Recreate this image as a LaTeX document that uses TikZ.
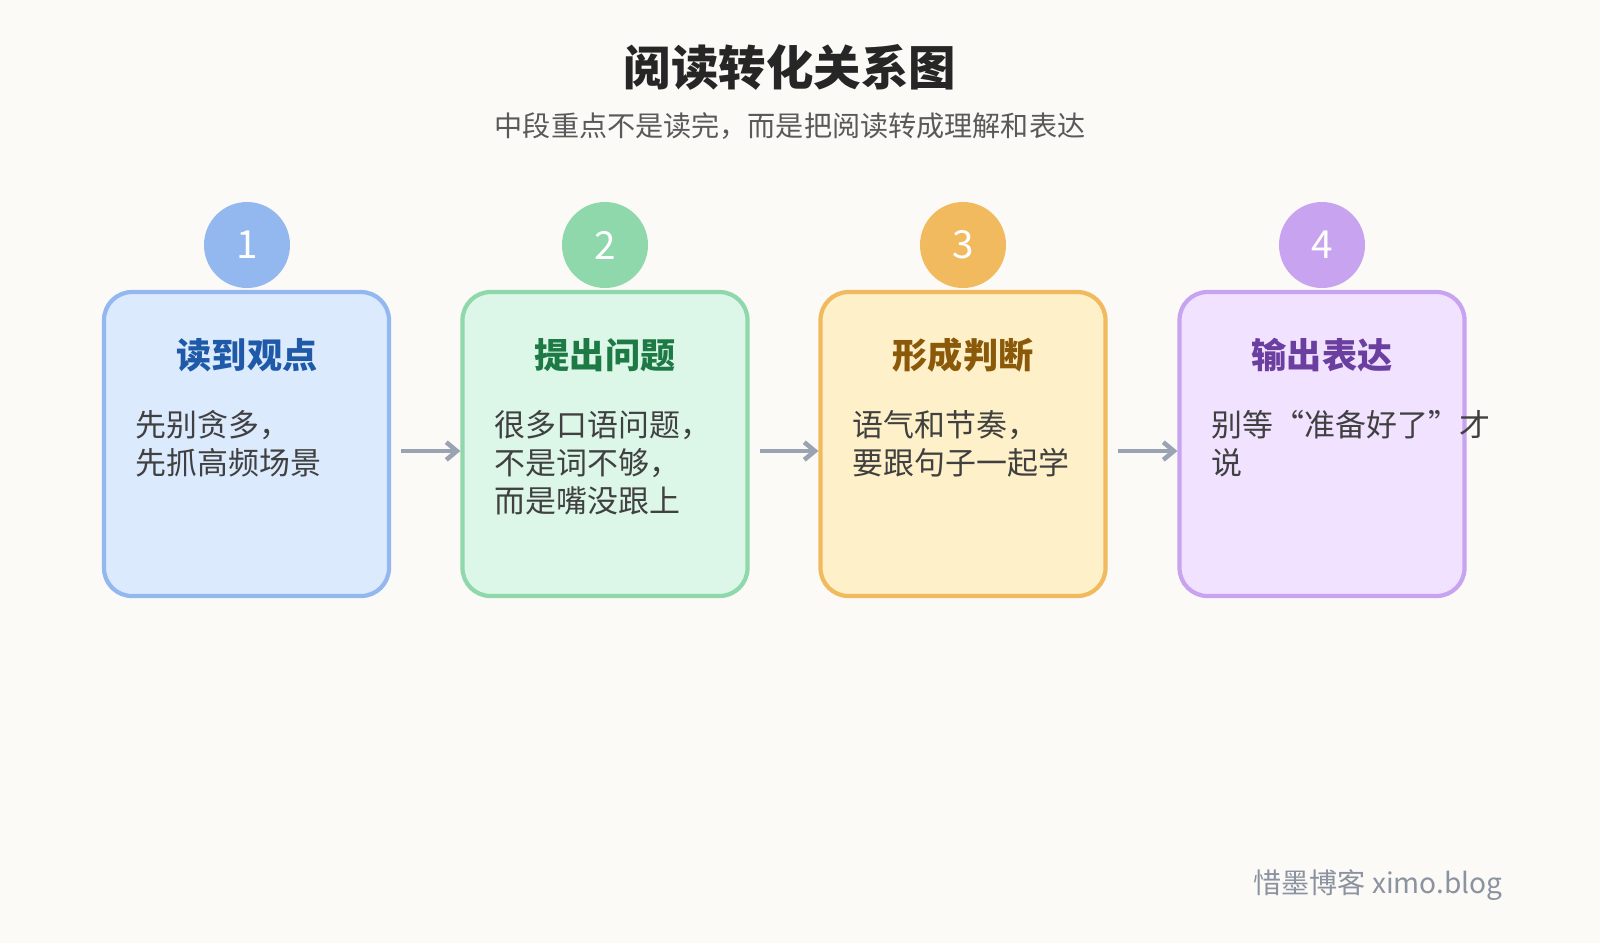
\documentclass[tikz,border=0pt]{standalone}
\usepackage{fontspec}
\setmainfont{Noto Sans CJK SC}
\usetikzlibrary{positioning,arrows.meta}
\definecolor{bgpaper}{HTML}{FBFAF7}
\definecolor{flowgray}{HTML}{9AA3B2}
\definecolor{fillA}{HTML}{DCEAFE}\definecolor{edgeA}{HTML}{93B8F0}\definecolor{headA}{HTML}{1E5AA8}
\definecolor{fillB}{HTML}{DCF7E8}\definecolor{edgeB}{HTML}{8ED8AC}\definecolor{headB}{HTML}{1E7A45}
\definecolor{fillC}{HTML}{FEF0C8}\definecolor{edgeC}{HTML}{F2BA5E}\definecolor{headC}{HTML}{8A5A0A}
\definecolor{fillD}{HTML}{F1E2FF}\definecolor{edgeD}{HTML}{C8A4F0}\definecolor{headD}{HTML}{6B3FA0}
\tikzset{
  stagebox/.style={draw=#1, line width=1.2pt, rounded corners=0.28cm,
    minimum width=2.85cm, minimum height=3.04cm},
  stagenum/.style={circle, fill=#1, minimum size=0.86cm, inner sep=0pt,
    text=white, font=\fontsize{11}{12}\selectfont},
  stagehead/.style={font=\fontsize{10}{12}\selectfont\bfseries, text=#1},
  stagetext/.style={font=\fontsize{8.8}{10.8}\selectfont, text=black!75,
    align=left, anchor=north west, inner sep=0pt},
  flow/.style={draw=flowgray, line width=1.3pt, -{Straight Barb[length=3pt,width=5pt]}}
}
\begin{document}
\begin{tikzpicture}
  \fill[bgpaper] (0,0) rectangle (16,-9.43);
  \useasboundingbox (0,0) rectangle (16,-9.43);

  \node[font=\fontsize{13.5}{16}\selectfont\bfseries, text=black!85] (title) at (7.9,-0.67) {阅读转化关系图};
  \node[font=\fontsize{8}{9}\selectfont, text=black!65] (subtitle) at (7.9,-1.26) {中段重点不是读完，而是把阅读转成理解和表达};

  % stages
  \node[stagebox=edgeA, fill=fillA] (boxA) at (2.465,-4.44) {};
  \node[stagebox=edgeB, fill=fillB] (boxB) at (6.05,-4.44) {};
  \node[stagebox=edgeC, fill=fillC] (boxC) at (9.63,-4.44) {};
  \node[stagebox=edgeD, fill=fillD] (boxD) at (13.22,-4.44) {};

  \node[stagenum=edgeA] (numA) at (2.47,-2.45) {1};
  \node[stagenum=edgeB] (numB) at (6.05,-2.45) {2};
  \node[stagenum=edgeC] (numC) at (9.63,-2.45) {3};
  \node[stagenum=edgeD] (numD) at (13.22,-2.45) {4};

  \node[stagehead=headA] (headA) at (2.47,-3.55) {读到观点};
  \node[stagehead=headB] (headB) at (6.05,-3.55) {提出问题};
  \node[stagehead=headC] (headC) at (9.63,-3.55) {形成判断};
  \node[stagehead=headD] (headD) at (13.22,-3.55) {输出表达};

  \node[stagetext] (textA) at (1.35,-4.1) {先别贪多，\\先抓高频场景};
  \node[stagetext] (textB) at (4.94,-4.1) {很多口语问题，\\不是词不够，\\而是嘴没跟上};
  \node[stagetext] (textC) at (8.52,-4.1) {语气和节奏，\\要跟句子一起学};
  \node[stagetext] (textD) at (12.11,-4.1) {别等“准备好了”才\\说};

  \draw[flow] ([xshift=0.1cm,yshift=-0.07cm]boxA.east) -- ([yshift=-0.07cm]boxB.west);
  \draw[flow] ([xshift=0.1cm,yshift=-0.07cm]boxB.east) -- ([yshift=-0.07cm]boxC.west);
  \draw[flow] ([xshift=0.1cm,yshift=-0.07cm]boxC.east) -- ([yshift=-0.07cm]boxD.west);

  \node[font=\fontsize{8}{9}\selectfont, text=flowgray!90!black, anchor=east] (mark) at (15.15,-8.85) {惜墨博客 ximo.blog};
\end{tikzpicture}
\end{document}
